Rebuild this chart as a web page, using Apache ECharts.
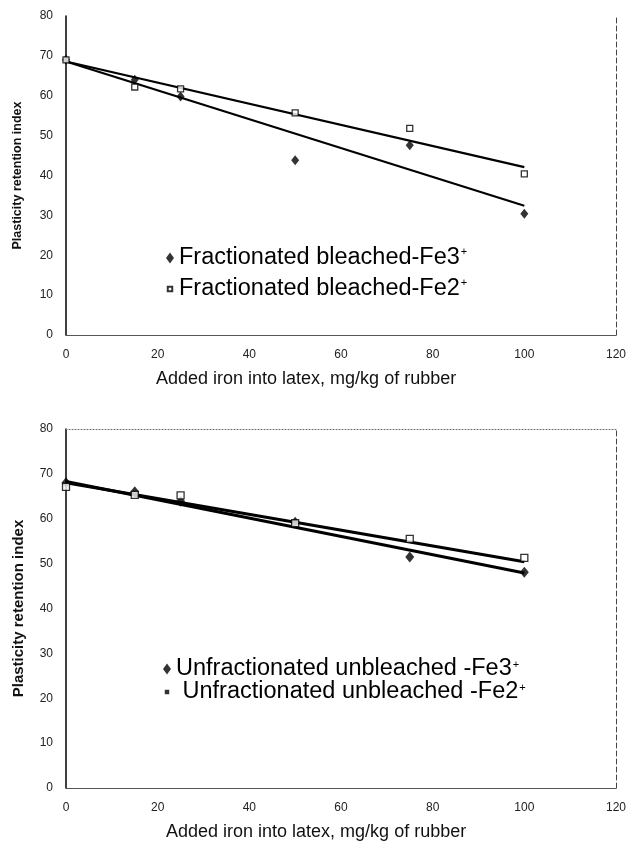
<!DOCTYPE html>
<html><head><meta charset="utf-8">
<script src="https://cdn.jsdelivr.net/npm/echarts@6/dist/echarts.min.js"></script>
<style>html,body{margin:0;padding:0;background:#fff}#c{width:629px;height:843px}</style>
</head><body><div id="c"></div>
<script>
// ---- data ----
const xValues = [0, 15, 25, 50, 75, 100];
const topFe3 = [69, 64, 59.8, 43.8, 47.6, 30.4];
const topFe2 = [69, 62.2, 61.7, 55.7, 51.8, 40.4];
const bottomFe3 = [68, 66, 63.9, 59.2, 51.5, 48.1];
const bottomFe2 = [67.1, 65.3, 65.2, 59, 55.5, 51.3];
const trendX = [0, 100];
const topFe3Trend = [68.6, 32.4];
const topFe2Trend = [68.6, 42.1];
const bottomFe3Trend = [68.3, 47.9];
const bottomFe2Trend = [68.0, 50.4];
const xTickMin = 0, xTickMax = 120, xTickStep = 20;
const yTickMin = 0, yTickMax = 80, yTickStep = 10;
const topNames = ['Fractionated bleached-Fe3', 'Fractionated bleached-Fe2'];
const bottomNames = ['Unfractionated unbleached -Fe3', ' Unfractionated unbleached -Fe2'];
const xTitle = 'Added iron into latex, mg/kg of rubber';
const yTitle = 'Plasticity retention index';

const pairs = (xs, ys) => xs.map((x, i) => [x, ys[i]]);
const FONT = '"Liberation Sans", Arial, sans-serif';
const SMALL_SQUARE = 'path://M0,0L0,0M10,10L10,10M2.2,2.2H7.8V7.8H2.2Z';

function xAx(g) {
  return {
    gridIndex: g, type: 'value', min: xTickMin, max: xTickMax, interval: xTickStep,
    axisLine: { show: true, onZero: false, lineStyle: { color: '#555', width: 1 } },
    axisTick: { show: false }, splitLine: { show: false },
    axisLabel: { fontFamily: FONT, fontSize: 12, color: '#222', margin: 14 }
  };
}
function xTop(g, show) {
  return {
    gridIndex: g, type: 'value', position: 'top', min: xTickMin, max: xTickMax,
    axisLine: { show: show, onZero: false, lineStyle: { color: '#666', width: 1, type: [1, 2] } },
    axisTick: { show: false }, axisLabel: { show: false }, splitLine: { show: false }
  };
}
function yAx(g, size, gap) {
  return {
    gridIndex: g, type: 'value', min: yTickMin, max: yTickMax, interval: yTickStep,
    name: yTitle, nameLocation: 'middle', nameRotate: 90, nameGap: gap,
    nameTextStyle: { fontFamily: FONT, fontWeight: 'bold', fontSize: size, color: '#111' },
    axisLine: { show: true, onZero: false, lineStyle: { color: '#000', width: 1.5 } },
    axisTick: { show: false }, splitLine: { show: false },
    axisLabel: { fontFamily: FONT, fontSize: 12, color: '#222', margin: 13 }
  };
}
function yRight(g) {
  return {
    gridIndex: g, type: 'value', position: 'right', min: yTickMin, max: yTickMax,
    axisLine: { show: true, onZero: false, lineStyle: { color: '#444', width: 1, type: [5, 3] } },
    axisTick: { show: false }, axisLabel: { show: false }, splitLine: { show: false }
  };
}
function scatter(name, xi, yi, ys, sym, size, fill) {
  return {
    name: name, type: 'scatter', xAxisIndex: xi, yAxisIndex: yi,
    data: pairs(xValues, ys), symbol: sym, symbolSize: size, z: 5,
    itemStyle: { color: fill, borderColor: '#000', borderWidth: fill === '#000' ? 0 : 1.3 }
  };
}
function trend(xi, yi, ys, w) {
  return {
    type: 'line', xAxisIndex: xi, yAxisIndex: yi, data: pairs(trendX, ys),
    showSymbol: false, symbol: 'none', silent: true, z: 3,
    lineStyle: { color: '#000', width: w }
  };
}
function legendText(lh) {
  return {
    fontFamily: FONT, fontSize: 23.5, color: '#000', lineHeight: lh,
    rich: { sup: { fontFamily: FONT, fontSize: 11, color: '#000', verticalAlign: 'top', lineHeight: 11, padding: [0, 0, 0, 1] } }
  };
}

const chart = echarts.init(document.getElementById('c'), null, { renderer: 'canvas' });
chart.setOption({
  animation: false,
  backgroundColor: '#fff',
  grid: [
    { left: 66, top: 16, width: 550, height: 319 },
    { left: 66, top: 429, width: 550, height: 359 }
  ],
  title: [
    { text: xTitle, left: 156, top: 370, padding: 0, textStyle: { fontFamily: FONT, fontSize: 18, fontWeight: 'normal', color: '#111' } },
    { text: xTitle, left: 166, top: 823, padding: 0, textStyle: { fontFamily: FONT, fontSize: 18, fontWeight: 'normal', color: '#111' } }
  ],
  xAxis: [xAx(0), xAx(1), xTop(0, false), xTop(1, true)],
  yAxis: [yAx(0, 12.5, 42), yAx(1, 15, 40), yRight(0), yRight(1)],
  legend: [
    {
      data: [
        { name: topNames[0], icon: 'diamond' },
        { name: topNames[1], icon: SMALL_SQUARE }
      ],
      orient: 'vertical', left: 165, top: 246, itemWidth: 8, itemHeight: 11, itemGap: 7,
      selectedMode: false, padding: 0,
      formatter: n => n + '{sup|+}', textStyle: legendText(24)
    },
    {
      data: [
        { name: bottomNames[0], icon: 'diamond' },
        { name: bottomNames[1], icon: SMALL_SQUARE, itemStyle: { color: '#000', borderWidth: 0 } }
      ],
      orient: 'vertical', left: 163, top: 657, itemWidth: 8, itemHeight: 11, itemGap: -1,
      selectedMode: false, padding: 0,
      formatter: n => n + '{sup|+}', textStyle: legendText(20)
    }
  ],
  series: [
    trend(0, 0, topFe3Trend, 2.2),
    trend(0, 0, topFe2Trend, 2.2),
    scatter(topNames[0], 0, 0, topFe3, 'diamond', [8, 10], '#000'),
    scatter(topNames[1], 0, 0, topFe2, 'rect', 6, '#fff'),
    trend(1, 1, bottomFe3Trend, 3),
    trend(1, 1, bottomFe2Trend, 3),
    scatter(bottomNames[0], 1, 1, bottomFe3, 'diamond', [9, 11], '#000'),
    scatter(bottomNames[1], 1, 1, bottomFe2, 'rect', 7, '#fff')
  ]
});
</script>
</body></html>
